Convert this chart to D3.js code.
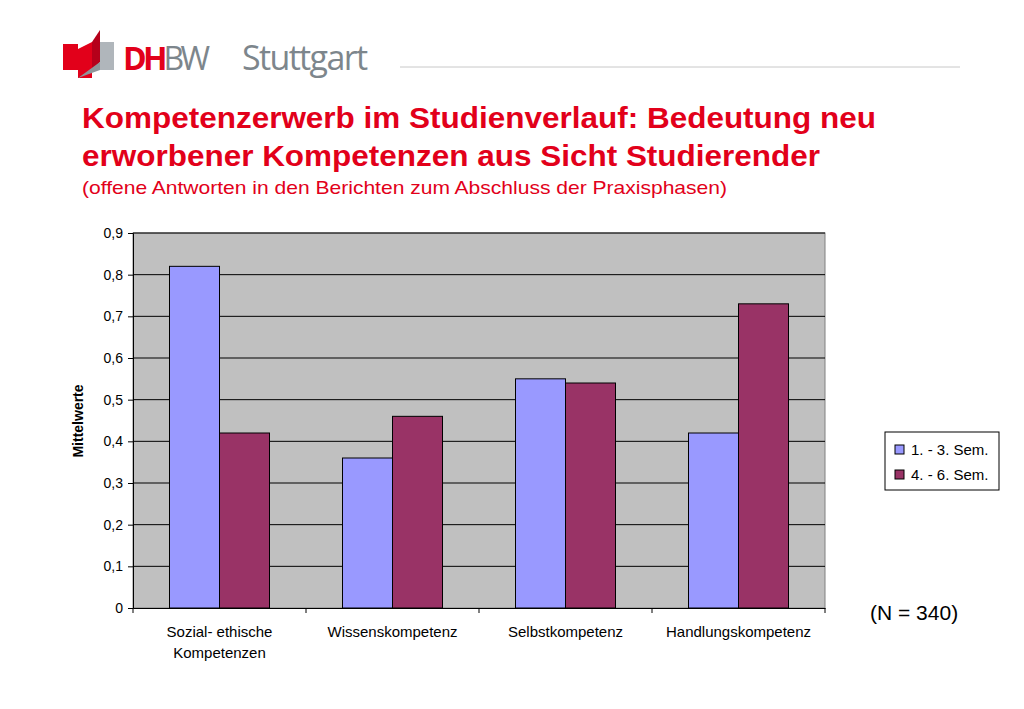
<!DOCTYPE html>
<html><head><meta charset="utf-8">
<script src="https://cdn.jsdelivr.net/npm/d3@7"></script>
<style>body{margin:0;background:#fff;}svg{font-family:"Liberation Sans",Arial,sans-serif;}</style>
</head><body><svg id="c" width="1024" height="709"></svg>
<script>
const categories = [["Sozial- ethische", "Kompetenzen"], ["Wissenskompetenz"], ["Selbstkompetenz"], ["Handlungskompetenz"]];
const seriesNames = ["1. - 3. Sem.", "4. - 6. Sem."];
const sem13 = [0.82, 0.36, 0.55, 0.42];
const sem46 = [0.42, 0.46, 0.54, 0.73];
const colors = ["#9999ff", "#993366"];
const ticks = [0, 0.1, 0.2, 0.3, 0.4, 0.5, 0.6, 0.7, 0.8, 0.9];

const svg = d3.select("#c");

// logo
const logo = svg.append("g");
logo.append("path").attr("d", "M78,49 L92,42 L92,78 L78,78 Z").attr("fill", "#e2001a");
logo.append("path").attr("d", "M92,42 L100,30 L100,62 L92,72 Z").attr("fill", "#b5001a");
logo.append("path").attr("d", "M100,42 L114,42 L114,70 L100,70 Z").attr("fill", "#b0b6bb");
logo.append("path").attr("d", "M78,78 L100,62 L100,70 L78,78 Z").attr("fill", "#8e959a");
logo.append("path").attr("d", "M63,44 L78,44 L78,70 L63,70 Z").attr("fill", "#e2001a");
svg.append("text").attr("x", 123).attr("y", 70).attr("font-size", 32).attr("font-weight", "bold")
  .attr("font-family", "'Open Sans',sans-serif").attr("textLength", 87)
  .html('<tspan fill="#e2001a">DH</tspan><tspan fill="#7d868c" font-weight="normal">BW</tspan>');
svg.append("text").attr("x", 242).attr("y", 70).attr("font-size", 34).attr("fill", "#7d868c")
  .attr("font-family", "'Open Sans',sans-serif").attr("textLength", 126).text("Stuttgart");
svg.append("line").attr("x1", 400).attr("x2", 960).attr("y1", 67).attr("y2", 67).attr("stroke", "#c8c8c8");

// title
svg.append("text").attr("x", 82).attr("y", 128).attr("font-size", 30).attr("font-weight", "bold").attr("fill", "#e2001a")
  .attr("textLength", 794).attr("lengthAdjust", "spacingAndGlyphs").text("Kompetenzerwerb im Studienverlauf: Bedeutung neu");
svg.append("text").attr("x", 82).attr("y", 166).attr("font-size", 30).attr("font-weight", "bold").attr("fill", "#e2001a")
  .attr("textLength", 738).attr("lengthAdjust", "spacingAndGlyphs").text("erworbener Kompetenzen aus Sicht Studierender");
svg.append("text").attr("x", 82).attr("y", 194).attr("font-size", 19).attr("fill", "#e2001a")
  .attr("textLength", 645).attr("lengthAdjust", "spacingAndGlyphs").text("(offene Antworten in den Berichten zum Abschluss der Praxisphasen)");

// chart
const x0 = d3.scaleBand().domain(d3.range(categories.length)).range([133, 825]);
const x1 = d3.scaleBand().domain([0, 1]).range([0, x0.bandwidth()]).paddingOuter(0.73).paddingInner(0);
const y = d3.scaleLinear().domain([0, 0.9]).range([608, 233]);

svg.append("rect").attr("x", 133).attr("y", 233).attr("width", 692).attr("height", 375)
  .attr("fill", "#c0c0c0").attr("stroke", "#808080");
svg.append("g").selectAll("line").data(ticks.slice(1)).join("line")
  .attr("x1", 133).attr("x2", 825).attr("y1", d => y(d)).attr("y2", d => y(d)).attr("stroke", "#000");

const yAxis = svg.append("g").attr("transform", "translate(133,0)")
  .call(d3.axisLeft(y).tickValues(ticks).tickSize(5).tickFormat(d => String(+d.toFixed(1)).replace(".", ",")));
yAxis.select(".domain").attr("stroke", "#000");
yAxis.selectAll("text").attr("font-size", 14).attr("font-family", "'Liberation Sans',Arial,sans-serif").attr("dx", -2);

const xAxis = svg.append("g").attr("transform", "translate(0,608)")
  .call(d3.axisBottom(x0).tickValues([]).tickSizeOuter(0));
xAxis.select(".domain").attr("stroke", "#000");
svg.append("g").selectAll("line").data(d3.range(categories.length + 1)).join("line")
  .attr("x1", d => 133 + d * x0.bandwidth()).attr("x2", d => 133 + d * x0.bandwidth())
  .attr("y1", 608).attr("y2", 613).attr("stroke", "#000");

const data = categories.map((c, i) => [sem13[i], sem46[i]]);
svg.append("g").selectAll("g").data(data).join("g")
  .attr("transform", (d, i) => `translate(${x0(i)},0)`)
  .selectAll("rect").data(d => d).join("rect")
  .attr("x", (d, j) => x1(j)).attr("width", x1.bandwidth())
  .attr("y", d => y(d)).attr("height", d => y(0) - y(d))
  .attr("fill", (d, j) => colors[j]).attr("stroke", "#000");

svg.append("g").selectAll("text").data(categories).join("text")
  .attr("x", (d, i) => x0(i) + x0.bandwidth() / 2).attr("y", 637)
  .attr("text-anchor", "middle").attr("font-size", 15)
  .selectAll("tspan").data(d => d).join("tspan")
  .attr("x", function () { return this.parentNode.getAttribute("x"); })
  .attr("dy", (d, k) => k ? 21 : 0).text(d => d);

svg.append("text").attr("transform", "translate(83,421) rotate(-90)").attr("text-anchor", "middle")
  .attr("font-size", 14).attr("font-weight", "bold").text("Mittelwerte");

// legend
const lg = svg.append("g");
lg.append("rect").attr("x", 885).attr("y", 432).attr("width", 114).attr("height", 58).attr("fill", "#fff").attr("stroke", "#000");
seriesNames.forEach((n, i) => {
  lg.append("rect").attr("x", 895).attr("y", 445 + i * 25).attr("width", 9).attr("height", 9)
    .attr("fill", colors[i]).attr("stroke", "#000");
  lg.append("text").attr("x", 911).attr("y", 455 + i * 25).attr("font-size", 15).text(n);
});

svg.append("text").attr("x", 870).attr("y", 620).attr("font-size", 21).text("(N = 340)");
</script></body></html>
